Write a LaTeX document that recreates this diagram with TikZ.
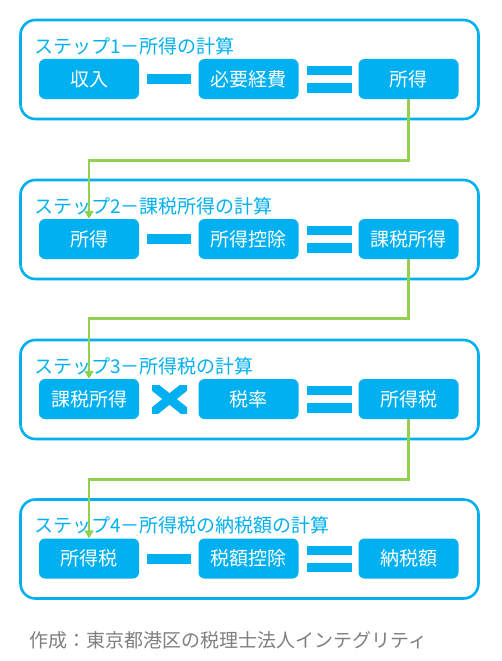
\documentclass[tikz,border=0pt]{standalone}
\usepackage{fontspec}
\setmainfont{Noto Sans CJK JP}
\usetikzlibrary{arrows.meta}
\definecolor{cblue}{HTML}{00B0F0}
\definecolor{cgreen}{HTML}{92D050}
\definecolor{cgray}{HTML}{7F7F7F}
\begin{document}
\begin{tikzpicture}[x=1pt,y=-1pt,
  stepframe/.style={draw=cblue, line width=2.6pt, rounded corners=15pt, minimum width=458pt, minimum height=99pt, inner sep=0pt},
  termbox/.style={fill=cblue, rounded corners=6pt, minimum width=100pt, minimum height=40pt, text=white, font=\fontsize{19}{19}\selectfont, inner sep=0pt},
  steptitle/.style={anchor=west, text=cblue, font=\fontsize{19}{19}\selectfont, inner sep=0pt},
  opbar/.style={fill=cblue, inner sep=0pt, minimum width=45pt},
  flow/.style={draw=cgreen, line width=2.8pt, -{Triangle[length=8pt,width=9pt]}}
]
\useasboundingbox[fill=white] (0,0) rectangle (501,661);

\foreach \k/\t/\a/\b/\c in {
  1/{ステップ1－所得の計算}/{収入}/{必要経費}/{所得},
  2/{ステップ2－課税所得の計算}/{所得}/{所得控除}/{課税所得},
  3/{ステップ3－所得税の計算}/{課税所得}/{税率}/{所得税},
  4/{ステップ4－所得税の納税額の計算}/{所得税}/{税額控除}/{納税額}}{
  \pgfmathsetmacro{\off}{(\k-1)*160 - (\k==4 ? 0.5 : 0)}
  \node[stepframe] (f\k) at (249.5,69.5+\off) {};
  \node[steptitle] (t\k) at (34,46+\off) {\t};
  \node[termbox] (l\k) at (89,79+\off) {\a};
  \node[termbox] (m\k) at (248.5,79+\off) {\b};
  \node[termbox] (r\k) at (408.5,79+\off) {\c};
  \node[opbar, minimum height=9pt] (eqa\k) at (329.5,70.5+\off) {};
  \node[opbar, minimum height=9.5pt] (eqb\k) at (329.5,88+\off) {};
}
% minus signs
\node[opbar, minimum width=44pt, minimum height=10pt] (mi1) at (169,79) {};
\node[opbar, minimum width=44pt, minimum height=10pt] (mi2) at (169,239) {};
\node[opbar, minimum width=44pt, minimum height=10pt] (mi4) at (169,558.5) {};
% times sign
\begin{scope}
  \clip (152,385) rectangle (187,413);
  \draw[cblue, line width=9pt] (144,378.6) -- (195,419.4);
  \draw[cblue, line width=9pt] (144,419.4) -- (195,378.6);
\end{scope}

% connectors
\draw[flow] (r1.south) -- ++(0,61) -| (l2.north);
\draw[flow] (r2.south) -- ++(0,59) -| (l3.north);
\draw[flow] (r3.south) -- ++(0,60) -| (l4.north);

\node[anchor=west, text=cgray, font=\fontsize{19}{19}\selectfont, inner sep=0pt] (src) at (29,640) {作成：東京都港区の税理士法人インテグリティ};
\end{tikzpicture}
\end{document}
